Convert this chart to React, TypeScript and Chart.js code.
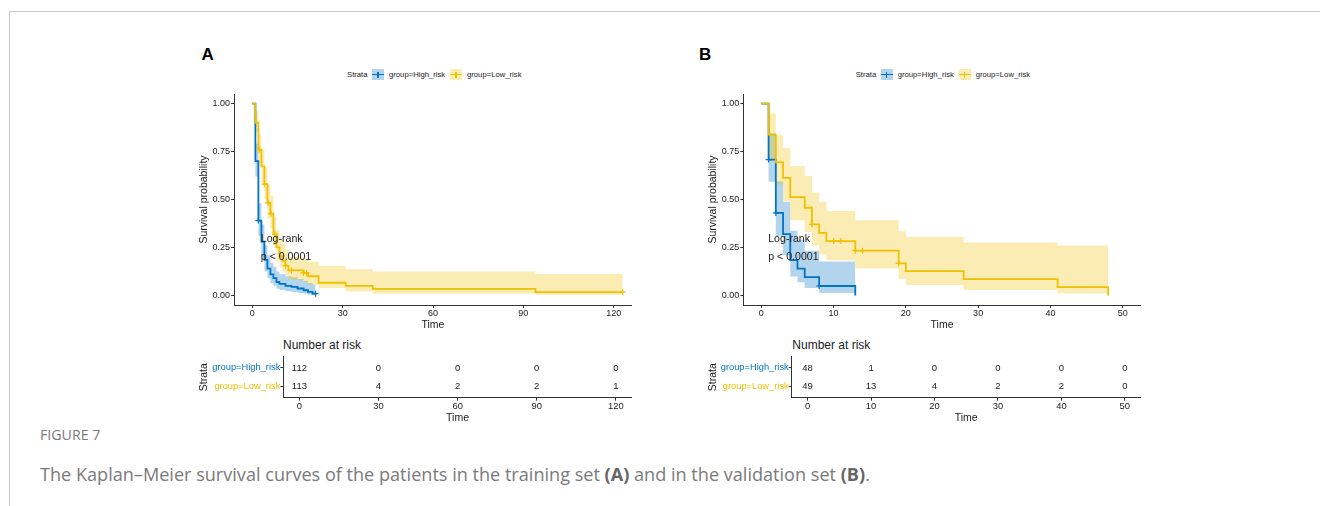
import React, { useEffect, useRef } from 'react';
import { Chart, registerables } from 'chart.js';

Chart.register(...registerables);

// ---------------- data ----------------
// Panel A (training set)
const timesHighA = [0, 1, 2, 3, 4, 5, 6, 7, 8, 9, 11, 13, 15, 17, 18.5, 20];
const survHighA = [1, 0.7, 0.39, 0.28, 0.185, 0.14, 0.11, 0.09, 0.07, 0.06, 0.05, 0.045, 0.036, 0.027, 0.018, 0.009];
const upperHighA = [1, 0.79, 0.48, 0.37, 0.26, 0.21, 0.17, 0.15, 0.125, 0.11, 0.1, 0.095, 0.085, 0.075, 0.065, 0.055];
const lowerHighA = [1, 0.62, 0.31, 0.21, 0.125, 0.09, 0.065, 0.05, 0.035, 0.028, 0.022, 0.018, 0.012, 0.008, 0.004, 0.001];
const endHighA = 21;
const censorHighA = [2, 21];

const timesLowA = [0, 1, 2, 3, 4, 5, 6, 7, 8, 9, 10, 11, 12, 17, 18.5, 22, 31, 40, 94];
const survLowA = [1, 0.9, 0.76, 0.673, 0.58, 0.482, 0.426, 0.32, 0.25, 0.205, 0.18, 0.155, 0.13, 0.117, 0.1, 0.066, 0.05, 0.034, 0.017];
const upperLowA = [1, 0.96, 0.84, 0.76, 0.67, 0.58, 0.52, 0.41, 0.34, 0.3, 0.27, 0.24, 0.2, 0.19, 0.175, 0.155, 0.137, 0.125, 0.111];
const lowerLowA = [1, 0.85, 0.69, 0.59, 0.5, 0.4, 0.35, 0.25, 0.18, 0.145, 0.125, 0.105, 0.08, 0.07, 0.055, 0.038, 0.021, 0.009, 0.003];
const endLowA = 123;
const censorLowA = [2.3, 4, 5.2, 6.2, 7.5, 11, 13, 17, 18, 123];

// Panel B (validation set)
const timesHighB = [0, 1, 2, 3, 4, 5, 6, 8, 13];
const survHighB = [1, 0.708, 0.43, 0.32, 0.184, 0.14, 0.095, 0.049, 0];
const upperHighB = [1, 0.845, 0.595, 0.487, 0.337, 0.29, 0.233, 0.177, 0];
const lowerHighB = [1, 0.592, 0.31, 0.21, 0.099, 0.068, 0.038, 0.012, 0];
const endHighB = 13;
const censorHighB = [1, 2, 8];

const timesLowB = [0, 1, 2, 3, 4, 6, 7, 8, 9, 13, 19, 20, 28, 41, 48];
const survLowB = [1, 0.838, 0.694, 0.613, 0.512, 0.457, 0.37, 0.326, 0.283, 0.233, 0.167, 0.127, 0.085, 0.043, 0];
const upperLowB = [1, 0.948, 0.835, 0.769, 0.674, 0.622, 0.535, 0.488, 0.44, 0.392, 0.335, 0.306, 0.276, 0.26, 0];
const lowerLowB = [1, 0.71, 0.578, 0.49, 0.392, 0.33, 0.26, 0.215, 0.183, 0.14, 0.085, 0.054, 0.028, 0.01, 0];
const endLowB = 48;
const censorLowB = [7, 10, 11, 13, 14, 19];

// Number at risk tables
const riskTimesA = [0, 30, 60, 90, 120];
const riskHighA = [112, 0, 0, 0, 0];
const riskLowA = [113, 4, 2, 2, 1];
const riskTimesB = [0, 10, 20, 30, 40, 50];
const riskHighB = [48, 1, 0, 0, 0, 0];
const riskLowB = [49, 13, 4, 2, 2, 0];

// axis ticks
const xTicksA = [0, 30, 60, 90, 120];
const xTicksB = [0, 10, 20, 30, 40, 50];
const yTicksKM = [0, 0.25, 0.5, 0.75, 1];

const strataNames = ['group=High_risk', 'group=Low_risk'];

// ---------------- styles ----------------
const BLUE = '#0073C2';
const YELLOW = '#EFC000';
const BLUE_FILL = 'rgba(0,115,194,0.3)';
const YELLOW_FILL = 'rgba(239,192,0,0.3)';
const FONT = '"Liberation Sans", Arial, Helvetica, sans-serif';
const INK = '#1a1a1a';
const AXIS = '#333333';

type Curve = { times: number[]; surv: number[]; upper: number[]; lower: number[]; end: number; censor: number[] };

const curveHighA: Curve = { times: timesHighA, surv: survHighA, upper: upperHighA, lower: lowerHighA, end: endHighA, censor: censorHighA };
const curveLowA: Curve = { times: timesLowA, surv: survLowA, upper: upperLowA, lower: lowerLowA, end: endLowA, censor: censorLowA };
const curveHighB: Curve = { times: timesHighB, surv: survHighB, upper: upperHighB, lower: lowerHighB, end: endHighB, censor: censorHighB };
const curveLowB: Curve = { times: timesLowB, surv: survLowB, upper: upperLowB, lower: lowerLowB, end: endLowB, censor: censorLowB };

function stepPoints(times: number[], vals: number[], end: number) {
  const pts = times.map((t, i) => ({ x: t, y: vals[i] }));
  if (end > times[times.length - 1]) pts.push({ x: end, y: vals[vals.length - 1] });
  return pts;
}

function stepValue(times: number[], vals: number[], t: number) {
  let v = vals[0];
  for (let i = 0; i < times.length; i++) if (times[i] <= t) v = vals[i];
  return v;
}

function kmDatasets(high: Curve, low: Curve): any[] {
  const band = { stepped: true, borderWidth: 0, borderColor: 'transparent', pointRadius: 0 };
  return [
    { ...band, label: 'low upper', data: stepPoints(low.times, low.upper, low.end), backgroundColor: YELLOW_FILL, fill: 1, order: 10 },
    { ...band, label: 'low lower', data: stepPoints(low.times, low.lower, low.end), fill: false, order: 11 },
    { ...band, label: 'high upper', data: stepPoints(high.times, high.upper, high.end), backgroundColor: BLUE_FILL, fill: 3, order: 12 },
    { ...band, label: 'high lower', data: stepPoints(high.times, high.lower, high.end), fill: false, order: 13 },
    {
      label: strataNames[0], data: stepPoints(high.times, high.surv, high.end), stepped: true,
      borderColor: BLUE, borderWidth: 1.8, pointRadius: 0, fill: false, order: 5,
    },
    {
      label: strataNames[1], data: stepPoints(low.times, low.surv, low.end), stepped: true,
      borderColor: YELLOW, borderWidth: 1.8, pointRadius: 0, fill: false, order: 4,
    },
    {
      label: 'high censor', data: high.censor.map((t) => ({ x: t, y: stepValue(high.times, high.surv, t) })),
      showLine: false, pointStyle: 'cross', pointRadius: 3, borderColor: BLUE, borderWidth: 1.2, order: 3,
    },
    {
      label: 'low censor', data: low.censor.map((t) => ({ x: t, y: stepValue(low.times, low.surv, t) })),
      showLine: false, pointStyle: 'cross', pointRadius: 3, borderColor: YELLOW, borderWidth: 1.2, order: 2,
    },
  ];
}

const logrankPlugin = {
  id: 'logrank',
  afterDatasetsDraw(chart: any, _args: any, opts: any) {
    if (!opts || !opts.lines) return;
    const { ctx } = chart;
    const x = chart.scales.x;
    const y = chart.scales.y;
    ctx.save();
    ctx.font = `10.6px ${FONT}`;
    ctx.fillStyle = INK;
    ctx.textAlign = 'left';
    ctx.textBaseline = 'alphabetic';
    opts.lines.forEach((l: any) => ctx.fillText(l.text, x.getPixelForValue(l.x), y.getPixelForValue(l.y)));
    ctx.restore();
  },
};

const riskPlugin = {
  id: 'riskNumbers',
  afterDatasetsDraw(chart: any) {
    const { ctx } = chart;
    ctx.save();
    ctx.font = `9.5px ${FONT}`;
    ctx.fillStyle = INK;
    ctx.textAlign = 'center';
    ctx.textBaseline = 'middle';
    chart.data.datasets.forEach((ds: any, di: number) => {
      const meta = chart.getDatasetMeta(di);
      meta.data.forEach((el: any, i: number) => ctx.fillText(String(ds.data[i].n), el.x, el.y));
    });
    ctx.restore();
  },
};

type Geo = {
  left: number; top: number; width: number; height: number;
  padTop: number; padRight: number; yWidth: number; xHeight: number;
  yTitlePad: number; xTitlePad: number; xmin: number; xmax: number;
};

function axisBase() {
  return {
    border: { display: true, color: AXIS, width: 1 },
    grid: { drawOnChartArea: false, drawTicks: true, tickLength: 3, tickColor: AXIS, color: AXIS, lineWidth: 1 },
  };
}

function KMChart({ geo, high, low, xTicks, logX }: { geo: Geo; high: Curve; low: Curve; xTicks: number[]; logX: number }) {
  const ref = useRef<HTMLCanvasElement>(null);
  useEffect(() => {
    const chart = new Chart(ref.current as HTMLCanvasElement, {
      type: 'line',
      data: { datasets: kmDatasets(high, low) },
      plugins: [logrankPlugin as any],
      options: {
        responsive: false,
        animation: false,
        events: [],
        layout: { padding: { top: geo.padTop, right: geo.padRight, left: 0, bottom: 0 } },
        plugins: {
          legend: { display: false },
          tooltip: { enabled: false },
          logrank: { lines: [{ text: 'Log-rank', x: logX, y: 0.281 }, { text: 'p < 0.0001', x: logX, y: 0.182 }] },
        } as any,
        scales: {
          x: {
            type: 'linear', min: geo.xmin, max: geo.xmax,
            ...axisBase(),
            afterBuildTicks: (ax: any) => { ax.ticks = xTicks.map((v) => ({ value: v })); },
            afterFit: (s: any) => { s.height = geo.xHeight; },
            ticks: { font: { family: FONT, size: 9 }, color: INK, padding: 0, maxRotation: 0, autoSkip: false },
            title: { display: true, text: 'Time', font: { family: FONT, size: 10.5 }, color: INK, padding: { top: 0, bottom: geo.xTitlePad } },
          } as any,
          y: {
            type: 'linear', min: -0.05, max: 1.05,
            ...axisBase(),
            afterBuildTicks: (ax: any) => { ax.ticks = yTicksKM.map((v) => ({ value: v })); },
            afterFit: (s: any) => { s.width = geo.yWidth; },
            ticks: { font: { family: FONT, size: 9 }, color: INK, padding: 1, autoSkip: false, callback: (v: any) => Number(v).toFixed(2) },
            title: { display: true, text: 'Survival probability', font: { family: FONT, size: 10.5 }, color: INK, padding: { top: geo.yTitlePad, bottom: 0 } },
          } as any,
        },
      },
    });
    return () => chart.destroy();
  }, []);
  return (
    <canvas ref={ref} width={geo.width} height={geo.height}
      style={{ position: 'absolute', left: geo.left, top: geo.top, width: geo.width, height: geo.height }} />
  );
}

function RiskTable({ geo, times, high, low }: { geo: Geo; times: number[]; high: number[]; low: number[] }) {
  const ref = useRef<HTMLCanvasElement>(null);
  useEffect(() => {
    const chart = new Chart(ref.current as HTMLCanvasElement, {
      type: 'line',
      data: {
        datasets: [
          { label: strataNames[0], data: times.map((t, i) => ({ x: t, y: 2, n: high[i] })), showLine: false, pointRadius: 0 },
          { label: strataNames[1], data: times.map((t, i) => ({ x: t, y: 1, n: low[i] })), showLine: false, pointRadius: 0 },
        ] as any,
      },
      plugins: [riskPlugin as any],
      options: {
        responsive: false,
        animation: false,
        events: [],
        layout: { padding: { top: geo.padTop, right: geo.padRight, left: 0, bottom: 0 } },
        plugins: { legend: { display: false }, tooltip: { enabled: false } },
        scales: {
          x: {
            type: 'linear', min: geo.xmin, max: geo.xmax,
            ...axisBase(),
            afterBuildTicks: (ax: any) => { ax.ticks = times.map((v) => ({ value: v })); },
            afterFit: (s: any) => { s.height = geo.xHeight; },
            ticks: { font: { family: FONT, size: 9.4 }, color: INK, padding: 0, maxRotation: 0, autoSkip: false },
            title: { display: true, text: 'Time', font: { family: FONT, size: 10.5 }, color: INK, padding: { top: 0, bottom: geo.xTitlePad } },
          } as any,
          y: {
            type: 'linear', min: 0.4, max: 2.6,
            ...axisBase(),
            afterBuildTicks: (ax: any) => { ax.ticks = [{ value: 1 }, { value: 2 }]; },
            afterFit: (s: any) => { s.width = geo.yWidth; },
            ticks: {
              font: { family: FONT, size: 9.3 }, padding: 0, autoSkip: false,
              color: (c: any) => (c.tick && c.tick.value === 2 ? BLUE : YELLOW),
              callback: (v: any) => (v === 2 ? strataNames[0] : strataNames[1]),
            },
            title: { display: true, text: 'Strata', font: { family: FONT, size: 10.5 }, color: INK, padding: { top: geo.yTitlePad, bottom: 0 } },
          } as any,
        },
      },
    });
    return () => chart.destroy();
  }, []);
  return (
    <canvas ref={ref} width={geo.width} height={geo.height}
      style={{ position: 'absolute', left: geo.left, top: geo.top, width: geo.width, height: geo.height }} />
  );
}

function LegendKey({ left, line, fill }: { left: number; line: string; fill: string }) {
  return (
    <div style={{ position: 'absolute', left, top: 0, width: 12, height: 11, background: fill }}>
      <div style={{ position: 'absolute', left: 0, top: 4.6, width: 12, height: 1.8, background: line }} />
      <div style={{ position: 'absolute', left: 5.4, top: 2.5, width: 1.2, height: 6, background: line }} />
    </div>
  );
}

function Legend({ left }: { left: number }) {
  const txt: React.CSSProperties = { position: 'absolute', top: 1.8, fontFamily: FONT, fontSize: 7.7, lineHeight: 1, color: INK, whiteSpace: 'nowrap' };
  return (
    <div style={{ position: 'absolute', left, top: 69, width: 200, height: 12 }}>
      <div style={{ ...txt, left: 0 }}>Strata</div>
      <LegendKey left={25} line={BLUE} fill={BLUE_FILL} />
      <div style={{ ...txt, left: 42 }}>{strataNames[0]}</div>
      <LegendKey left={103} line={YELLOW} fill={YELLOW_FILL} />
      <div style={{ ...txt, left: 120 }}>{strataNames[1]}</div>
    </div>
  );
}

const geoKmA: Geo = { left: 190, top: 85, width: 450, height: 250, padTop: 9, padRight: 8.3, yWidth: 44, xHeight: 30, yTitlePad: 7.7, xTitlePad: 3.7, xmin: -6.1, xmax: 126 };
const geoKmB: Geo = { left: 690, top: 85, width: 460, height: 250, padTop: 9, padRight: 9.3, yWidth: 53.3, xHeight: 30, yTitlePad: 16.4, xTitlePad: 3.7, xmin: -2.5, xmax: 52.5 };
const geoRiskA: Geo = { left: 190, top: 350, width: 450, height: 78, padTop: 6.7, padRight: 8.3, yWidth: 93.3, xHeight: 30.3, yTitlePad: 7.7, xTitlePad: 3.4, xmin: -6.1, xmax: 126 };
const geoRiskB: Geo = { left: 690, top: 350, width: 460, height: 78, padTop: 6.7, padRight: 9.3, yWidth: 101.7, xHeight: 30.3, yTitlePad: 16.4, xTitlePad: 3.4, xmin: -2.5, xmax: 52.5 };

export default function App() {
  const letter: React.CSSProperties = { position: 'absolute', top: 45.6, fontFamily: FONT, fontSize: 17, fontWeight: 700, lineHeight: 1, color: '#000' };
  const nar: React.CSSProperties = { position: 'absolute', top: 339.1, fontFamily: FONT, fontSize: 12, lineHeight: 1, color: INK, whiteSpace: 'nowrap' };
  const cap: React.CSSProperties = { position: 'absolute', left: 40, fontFamily: '"Open Sans", "Noto Sans", sans-serif', lineHeight: 1, whiteSpace: 'nowrap' };
  return (
    <div style={{ position: 'absolute', left: 0, top: 0, width: 1320, height: 506, background: '#fff', overflow: 'hidden' }}>
      <div style={{ position: 'absolute', left: 9, top: 11, width: 1400, height: 600, borderTop: '1px solid #c8c8c8', borderLeft: '1px solid #c8c8c8' }} />
      <div style={{ ...letter, left: 201.5 }}>A</div>
      <div style={{ ...letter, left: 699 }}>B</div>
      <Legend left={347} />
      <Legend left={855.7} />
      <KMChart geo={geoKmA} high={curveHighA} low={curveLowA} xTicks={xTicksA} logX={2.8} />
      <KMChart geo={geoKmB} high={curveHighB} low={curveLowB} xTicks={xTicksB} logX={0.95} />
      <div style={{ ...nar, left: 283 }}>Number at risk</div>
      <div style={{ ...nar, left: 792.3 }}>Number at risk</div>
      <RiskTable geo={geoRiskA} times={riskTimesA} high={riskHighA} low={riskLowA} />
      <RiskTable geo={geoRiskB} times={riskTimesB} high={riskHighB} low={riskLowB} />
      <div style={{ ...cap, top: 427.5, fontSize: 14.2, color: '#7a7a7a' }}>FIGURE 7</div>
      <div style={{ ...cap, top: 465, fontSize: 18.1, color: '#7a7a7a' }}>
        The Kaplan–Meier survival curves of the patients in the training set <b style={{ color: '#666' }}>(A)</b> and in the validation set <b style={{ color: '#666' }}>(B)</b>.
      </div>
    </div>
  );
}
